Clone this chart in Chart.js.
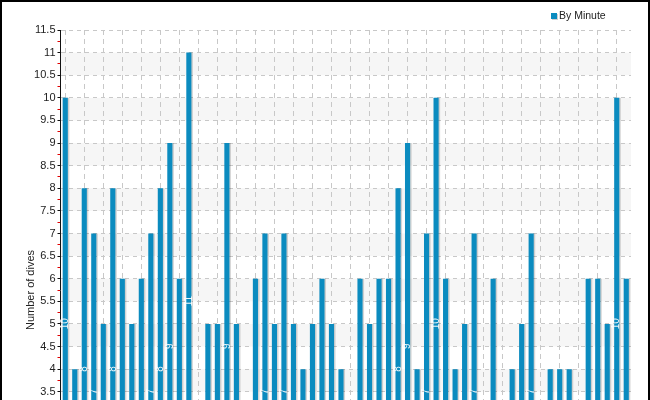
<!DOCTYPE html>
<html>
<head>
<meta charset="utf-8">
<script src="https://cdn.jsdelivr.net/npm/chart.js@4"></script>
<style>
  html, body { margin: 0; padding: 0; overflow: hidden; background: #fff; }
  #wrap { position: relative; width: 650px; height: 600px; box-sizing: border-box;
          border: 2px solid #000; border-bottom: none; background: #fff; }
  #legend { position: absolute; left: 549px; top: 6px; font: 10.5px "Liberation Sans", Arial, sans-serif;
            color: #222; white-space: nowrap; line-height: 14px; }
  #legend .sw { display: inline-block; width: 6px; height: 6px; background: #0b8bbf;
                box-shadow: 1px 1px 0 #cfcfcf; margin-right: 2px; vertical-align: 0px; }
  canvas { display: block; }
</style>
</head>
<body>
<div id="wrap">
  <div id="legend"><span class="sw"></span>By Minute</div>
  <canvas id="c" width="646" height="598"></canvas>
</div>
<script>
const categories = ['0','1','2','3','4','5','6','7','8','9','10','11','12','13','14','15','16','17','18','19',
  '20','21','22','23','24','25','26','27','28','29','30','31','32','33','34','35','36','37','38','39',
  '40','41','42','43','44','45','46','47','48','49','50','51','52','53','54','55','56','57','58','59'];
const seriesName = 'By Minute';
const diveCounts = [10,4,8,7,5,8,6,5,6,7, 8,9,6,11,3,5,5,9,5,3, 6,7,5,7,5,4,5,6,5,4,
  3,6,5,6,6,8,9,4,7,10, 6,4,5,7,3,6,2,4,5,7, 3,4,4,4,2,6,6,5,10,6];
const yTitle = 'Number of dives';

const isMajor = v => Math.abs(v * 2 - Math.round(v * 2)) < 1e-6;

const bandsPlugin = {
  id: 'bands',
  beforeDraw(chart) {
    const {ctx, chartArea: a, scales: {y}} = chart;
    ctx.save();
    ctx.fillStyle = '#f6f6f6';
    for (let n = 1; n <= 11; n++) {
      const top = y.getPixelForValue(n);
      const bot = y.getPixelForValue(n - 0.5);
      ctx.fillRect(a.left, top, a.right - a.left, bot - top);
    }
    ctx.restore();
  }
};

const shadowPlugin = {
  id: 'barShadow',
  beforeDatasetsDraw(chart) {
    const ctx = chart.ctx;
    ctx.save();
    ctx.shadowColor = 'rgba(0,0,0,0.16)';
    ctx.shadowOffsetX = 1.5;
    ctx.shadowOffsetY = 0;
    ctx.shadowBlur = 0;
  },
  afterDatasetsDraw(chart) {
    const ctx = chart.ctx;
    ctx.restore();
    const meta = chart.getDatasetMeta(0);
    ctx.save();
    ctx.font = '10px "Liberation Sans", Arial, sans-serif';
    ctx.fillStyle = 'rgba(255,255,255,0.92)';
    ctx.textAlign = 'center';
    ctx.textBaseline = 'middle';
    meta.data.forEach((bar, i) => {
      const v = chart.data.datasets[0].data[i];
      const cy = (bar.y + bar.base) / 2;
      ctx.save();
      ctx.translate(bar.x, cy);
      ctx.rotate(-Math.PI / 2);
      ctx.fillText(String(v), 0, 0);
      ctx.restore();
    });
    ctx.restore();
  }
};

new Chart(document.getElementById('c'), {
  type: 'bar',
  data: {
    labels: categories,
    datasets: [{
      label: seriesName,
      data: diveCounts,
      backgroundColor: '#0b8bbf',
      borderWidth: 0,
      categoryPercentage: 1.0,
      barPercentage: 0.54
    }]
  },
  options: {
    responsive: false,
    animation: false,
    events: [],
    layout: { padding: { top: 28, right: 17, left: 0, bottom: 30 } },
    plugins: { legend: { display: false }, tooltip: { enabled: false } },
    scales: {
      x: {
        offset: true,
        grid: { offset: false, color: '#c8c8c8', lineWidth: 1, drawTicks: false },
        border: { display: false, dash: [5, 4] },
        ticks: { display: true, font: { family: '"Liberation Sans", Arial, sans-serif', size: 10 }, color: '#222', maxRotation: 0, autoSkip: true },
        afterFit(scale) { scale.height = 20; }
      },
      y: {
        min: 0,
        max: 11.5,
        ticks: {
          stepSize: 0.25,
          autoSkip: false,
          padding: 2,
          color: '#222',
          font: { family: '"Liberation Sans", Arial, sans-serif', size: 11 },
          callback: (v) => isMajor(v) ? String(v) : ''
        },
        grid: {
          color: (c) => (c.tick && isMajor(c.tick.value)) ? '#c8c8c8' : 'rgba(0,0,0,0)',
          tickColor: (c) => (c.tick && isMajor(c.tick.value)) ? '#111' : '#e00000',
          tickLength: 3,
          lineWidth: 1
        },
        border: { display: true, color: '#111', width: 1, dash: [4, 4] },
        title: {
          display: true,
          text: yTitle,
          color: '#222',
          font: { family: '"Liberation Sans", Arial, sans-serif', size: 11 },
          padding: { top: 22.4, bottom: 0 }
        },
        afterFit(scale) { scale.width = 58.5; }
      }
    }
  },
  plugins: [bandsPlugin, shadowPlugin]
});
</script>
</body>
</html>
